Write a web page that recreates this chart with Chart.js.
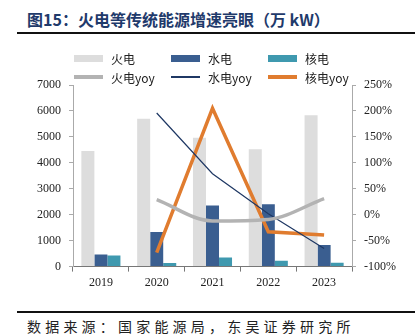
<!DOCTYPE html>
<html>
<head>
<meta charset="utf-8">
<script src="https://cdn.jsdelivr.net/npm/chart.js@4.4.0/dist/chart.umd.min.js"></script>
<style>
  body { margin: 0; width: 415px; height: 336px; background: #fff; position: relative; overflow: hidden; }
  #title { position: absolute; left: 27px; top: 7px; font: bold 16px "Noto Sans CJK SC", sans-serif; color: #1f3a6b; white-space: nowrap; }
  .rule { position: absolute; left: 17px; right: 0; height: 2px; background: #111; }
  #source { position: absolute; left: 27px; top: 316px; font: 14px "Noto Sans CJK SC", sans-serif; color: #222; letter-spacing: 4.2px; white-space: nowrap; }
  #chartBox { position: absolute; left: 0; top: 40px; width: 415px; height: 260px; }
  #legend { position: absolute; left: 74px; top: 51px; display: grid; grid-template-columns: 97px 97px 97px; row-gap: 5px; font: 12px "Noto Sans CJK SC", "Liberation Serif", serif; color: #222; }
  .item { display: flex; align-items: center; height: 14px; }
  .swatch { width: 29px; margin-right: 8px; }
</style>
</head>
<body>
<div id="title">图15：火电等传统能源增速亮眼（万 kW）</div>
<div class="rule" style="top:32px"></div>
<div id="chartBox"><canvas id="chart"></canvas></div>
<div id="legend"></div>
<div class="rule" style="top:311px"></div>
<div id="source">数据来源：国家能源局，东吴证券研究所</div>
<script>
// Years on the x axis
const years = ['2019', '2020', '2021', '2022', '2023'];

// New installed capacity, 万kW (left axis)
const thermal = [4460, 5700, 4970, 4525, 5830];
const hydro = [468, 1330, 2357, 2407, 836];
const nuclear = [430, 137, 354, 228, 145];

// Year-on-year growth, % (right axis)
const thermalYoy = [null, 29, -12, -9, 31];
const hydroYoy = [null, 196, 79, 2, -65];
const nuclearYoy = [null, -73, 205, -33, -39];

const leftTicks = [0, 7000, 1000];
const rightTicks = [-100, 250, 50];

const ctx = document.getElementById('chart').getContext('2d');
const tickFont = { family: 'Liberation Serif', size: 12 };

const chart = new Chart(ctx, {
    type: 'bar',
    data: {
        labels: years,
        datasets: [
            { label: '火电', data: thermal, backgroundColor: '#dddddd', yAxisID: 'y', order: 2 },
            { label: '水电', data: hydro, backgroundColor: '#3a5e90', yAxisID: 'y', order: 2 },
            { label: '核电', data: nuclear, backgroundColor: '#3f99af', yAxisID: 'y', order: 2 },
            { type: 'line', label: '火电yoy', data: thermalYoy, borderColor: '#b3b3b3', borderWidth: 3.5,
              cubicInterpolationMode: 'monotone', pointRadius: 0, yAxisID: 'y1', order: 1 },
            { type: 'line', label: '水电yoy', data: hydroYoy, borderColor: '#1f3864', borderWidth: 1.2,
              tension: 0, pointRadius: 0, yAxisID: 'y1', order: 1 },
            { type: 'line', label: '核电yoy', data: nuclearYoy, borderColor: '#e07c2f', borderWidth: 3.5,
              tension: 0, pointRadius: 0, yAxisID: 'y1', order: 1 }
        ]
    },
    options: {
        responsive: true,
        maintainAspectRatio: false,
        animation: false,
        datasets: { bar: { categoryPercentage: 0.7, barPercentage: 1.0 } },
        layout: { padding: { top: 45, left: 29, right: 11, bottom: 6 } },
        plugins: { legend: { display: false }, tooltip: { enabled: false } },
        scales: {
            x: {
                grid: { drawOnChartArea: false, offset: true, tickLength: 5, color: '#777' },
                border: { color: '#777', width: 1 },
                ticks: { font: tickFont, color: '#222', padding: 4 }
            },
            y: {
                position: 'left',
                min: leftTicks[0], max: leftTicks[1],
                grid: { drawOnChartArea: false, tickLength: 4, color: '#aaa' },
                border: { color: '#aaa' },
                ticks: { stepSize: leftTicks[2], font: tickFont, color: '#222', padding: 8,
                         callback: v => String(v) }
            },
            y1: {
                position: 'right',
                min: rightTicks[0], max: rightTicks[1],
                grid: { drawOnChartArea: false, tickLength: 4, color: '#aaa' },
                border: { color: '#aaa' },
                ticks: { stepSize: rightTicks[2], font: tickFont, color: '#222', padding: 8,
                         callback: v => v + '%' }
            }
        }
    }
});

// Legend in a 3 x 2 grid, built from the datasets
const legend = document.getElementById('legend');
chart.data.datasets.forEach(ds => {
    const item = document.createElement('div');
    item.className = 'item';
    const sw = document.createElement('span');
    sw.className = 'swatch';
    if (ds.type === 'line') {
        sw.style.height = ds.borderWidth + 'px';
        sw.style.background = ds.borderColor;
    } else {
        sw.style.height = '7px';
        sw.style.background = ds.backgroundColor;
    }
    const txt = document.createElement('span');
    txt.textContent = ds.label;
    item.appendChild(sw);
    item.appendChild(txt);
    legend.appendChild(item);
});
</script>
</body>
</html>
